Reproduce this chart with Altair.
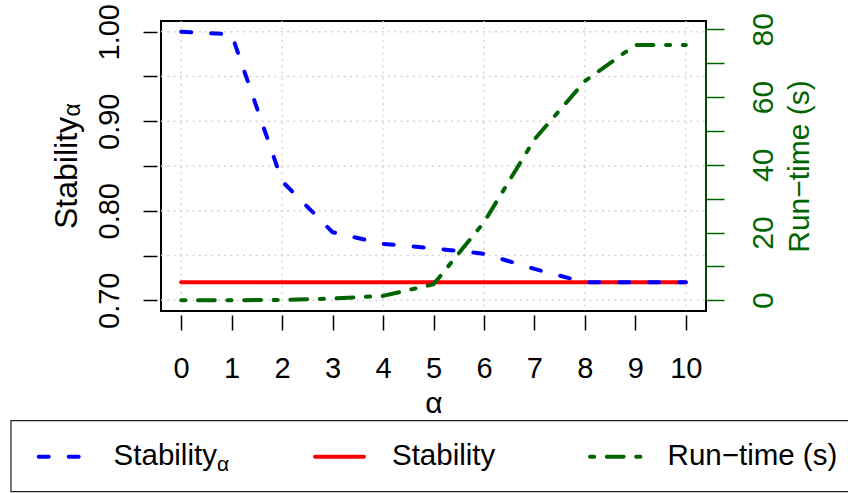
import altair as alt
import pandas as pd

# ---- data -------------------------------------------------------------
alpha = [0, 1, 2, 3, 4, 5, 6, 7, 8, 9, 10]
stability_alpha = [1.000, 0.997, 0.833, 0.776, 0.763, 0.758, 0.752, 0.735, 0.720, 0.720, 0.720]
stability = [0.72, 0.72, 0.72, 0.72, 0.72, 0.72, 0.72, 0.72, 0.72, 0.72, 0.72]
runtime = [0.0, 0.0, 0.1, 0.5, 1.3, 4.7, 23.0, 47.5, 64.7, 75.4, 75.4]

x_ticks = [0, 1, 2, 3, 4, 5, 6, 7, 8, 9, 10]
x_grid = [0, 2, 4, 6, 8, 10]
left_ticks = [0.70, 0.75, 0.80, 0.85, 0.90, 0.95, 1.00]
right_ticks = [0, 10, 20, 30, 40, 50, 60, 70, 80]

legend_labels = ["Stability", "Stability", "Run\u2212time (s)"]

# ---- styling ----------------------------------------------------------
BLUE, RED, GREEN = "#0000FF", "#FF0000", "#006400"
GRID = "#D3D3D3"
FONT = "Liberation Sans"
W, H = 545, 290
LW = 4

df = pd.DataFrame({"alpha": alpha, "stab_a": stability_alpha,
                   "stab": stability, "runtime": runtime})

x_scale = alt.Scale(domain=[-0.4, 10.4], nice=False, zero=False)
yl_scale = alt.Scale(domain=[0.688, 1.012], nice=False, zero=False)
yr_scale = alt.Scale(domain=[-3.17, 82.47], nice=False, zero=False)

x_axis = alt.Axis(
    values=x_ticks, format="d", offset=4, tickSize=15, tickWidth=1.5,
    tickColor="black", domain=False, grid=False, labelFontSize=29,
    labelColor="black", labelPadding=47, labelBaseline="alphabetic",
    labelAngle=0, labelFlush=False, labelOverlap=False,
    title="\u03b1", titleFontSize=30, titleFontWeight="normal",
    titleColor="black", titleX=272.5, titleY=97,
    titleBaseline="alphabetic", titleAlign="center", titleAngle=0)

yl_axis = alt.Axis(
    orient="left", values=left_ticks, offset=4, tickSize=14, tickWidth=1.5,
    tickColor="black", domain=False, grid=False,
    labelExpr="round(datum.value * 100) % 10 == 0 ? format(datum.value, '.2f') : ''",
    labelFontSize=29, labelColor="black", labelAngle=270, labelAlign="center",
    labelBaseline="alphabetic", labelPadding=25, labelFlush=False,
    labelOverlap=False,
    title="Stability", titleFontSize=32, titleFontWeight="normal",
    titleColor="black", titleAngle=270, titleAlign="left",
    titleBaseline="alphabetic", titleX=-81, titleY=207.5)

yr_axis = alt.Axis(
    orient="right", values=right_ticks, offset=0, tickSize=18, tickWidth=1.5,
    tickColor=GREEN, domain=False, grid=False,
    labelExpr="datum.value % 20 == 0 ? format(datum.value, 'd') : ''",
    labelFontSize=30, labelColor=GREEN, labelAngle=270, labelAlign="center",
    labelBaseline="alphabetic", labelPadding=48, labelFlush=False,
    labelOverlap=False,
    title="Run\u2212time (s)", titleFontSize=30, titleFontWeight="normal",
    titleColor=GREEN, titleAngle=270, titleAlign="center",
    titleBaseline="alphabetic", titleX=102, titleY=145)

# ---- grid ---------------------------------------------------------------
vgrid = alt.Chart(pd.DataFrame({"g": x_grid})).mark_rule(
    color=GRID, strokeDash=[2, 4.3], strokeWidth=1.3
).encode(x=alt.X("g:Q", scale=x_scale, axis=x_axis),
         y=alt.value(0), y2=alt.value(H))

hgrid = alt.Chart(pd.DataFrame({"g": left_ticks})).mark_rule(
    color=GRID, strokeDash=[2, 4.3], strokeWidth=1.3
).encode(y=alt.Y("g:Q", scale=yl_scale, axis=yl_axis),
         x=alt.value(0), x2=alt.value(W))

# ---- series -------------------------------------------------------------
base = alt.Chart(df)
x_enc = alt.X("alpha:Q", scale=x_scale, axis=x_axis)

red_line = base.mark_line(color=RED, strokeWidth=LW, strokeCap="round").encode(
    x=x_enc, y=alt.Y("stab:Q", scale=yl_scale, axis=yl_axis))

blue_line = base.mark_line(color=BLUE, strokeWidth=LW, strokeCap="round",
                           strokeJoin="round", strokeDash=[10, 20]).encode(
    x=x_enc, y=alt.Y("stab_a:Q", scale=yl_scale, axis=yl_axis))

left_group = alt.layer(hgrid, red_line, blue_line)

green_line = base.mark_line(color=GREEN, strokeWidth=LW, strokeCap="round",
                            strokeJoin="round",
                            strokeDash=[4.2, 12.6, 16.8, 12.6]).encode(
    x=x_enc, y=alt.Y("runtime:Q", scale=yr_scale, axis=yr_axis))

green_axis_line = alt.Chart(pd.DataFrame({"k": [0]})).mark_rule(
    color=GREEN, strokeWidth=1.5
).encode(x=alt.value(W),
         y=alt.Y(datum=right_ticks[0], scale=yr_scale, axis=yr_axis),
         y2=alt.Y2(datum=right_ticks[-1]))

right_group = alt.layer(green_axis_line, green_line)

# ---- subscript on the left axis title -----------------------------------
one = pd.DataFrame({"k": [0]})
title_sub = alt.Chart(one).mark_text(
    text="\u03b1", font=FONT, fontSize=23, angle=270, align="left",
    baseline="alphabetic", color="black"
).encode(x=alt.value(-81), y=alt.value(95.5))

# ---- legend -------------------------------------------------------------
LY = 435.7   # sample line height
TY = 444     # text baseline

legend_box = alt.Chart(one).mark_rect(
    fill="transparent", stroke="#222222", strokeWidth=1.2
).encode(x=alt.value(-150), x2=alt.value(700),
         y=alt.value(399.7), y2=alt.value(470.7))

def sample(x0, x1, color, dash=None):
    kw = dict(color=color, strokeWidth=LW, strokeCap="round")
    if dash is not None:
        kw["strokeDash"] = dash
    return alt.Chart(one).mark_rule(**kw).encode(
        x=alt.value(x0), x2=alt.value(x1), y=alt.value(LY))

def label(text, x0, size=29.5, dy=0):
    return alt.Chart(pd.DataFrame({"t": [text]})).mark_text(
        font=FONT, fontSize=size, align="left", baseline="alphabetic",
        color="black"
    ).encode(text="t:N", x=alt.value(x0), y=alt.value(TY + dy))

legend = [
    legend_box,
    sample(-122.3, -82.3, BLUE, [10, 20]),
    label(legend_labels[0], -47.4),
    label("\u03b1", 56, size=21, dy=5.5),
    sample(154, 203, RED),
    label(legend_labels[1], 231),
    sample(429, 480, GREEN, [4.2, 12.6, 16.8, 12.6]),
    label(legend_labels[2], 506.6),
]

chart = alt.layer(
    vgrid, left_group, right_group, title_sub, *legend
).resolve_scale(y="independent").properties(
    width=W, height=H,
    padding={"left": 161, "top": 21, "right": 142, "bottom": 182},
    autosize=alt.AutoSizeParams(type="none"),
).configure(font=FONT).configure_view(stroke="black", strokeWidth=2)

chart.save("out.html", embed_options={"renderer": "svg", "actions": False})
